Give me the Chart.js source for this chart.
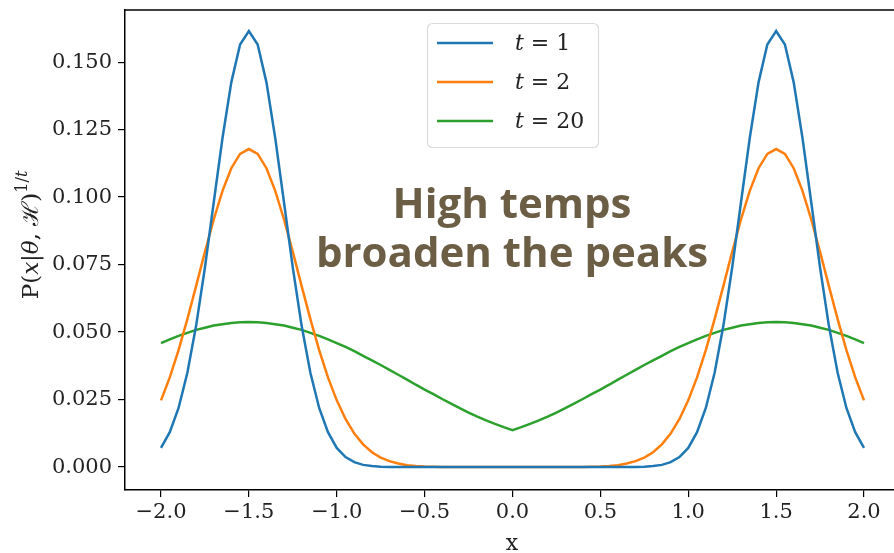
<!DOCTYPE html>
<html>
<head>
<meta charset="utf-8">
<script src="https://cdn.jsdelivr.net/npm/chart.js@4"></script>
<style>
  body { margin: 0; background: #fff; }
  #wrap { width: 894px; height: 553px; }
</style>
</head>
<body>
<div id="wrap"><canvas id="temp_chart" width="894" height="553"></canvas></div>
<script>
// x grid and read-off curve values
var xs = [
  -2.00, -1.95, -1.90, -1.85, -1.80, -1.75, -1.70, -1.65, -1.60, -1.55,
  -1.50, -1.45, -1.40, -1.35, -1.30, -1.25, -1.20, -1.15, -1.10, -1.05,
  -1.00, -0.95, -0.90, -0.85, -0.80, -0.75, -0.70, -0.65, -0.60, -0.55,
  -0.50, -0.45, -0.40, -0.35, -0.30, -0.25, -0.20, -0.15, -0.10, -0.05,
  0.00, 0.05, 0.10, 0.15, 0.20, 0.25, 0.30, 0.35, 0.40, 0.45,
  0.50, 0.55, 0.60, 0.65, 0.70, 0.75, 0.80, 0.85, 0.90, 0.95,
  1.00, 1.05, 1.10, 1.15, 1.20, 1.25, 1.30, 1.35, 1.40, 1.45,
  1.50, 1.55, 1.60, 1.65, 1.70, 1.75, 1.80, 1.85, 1.90, 1.95,
  2.00
];

var p_t1 = [
  0.0071, 0.0129, 0.0219, 0.0349, 0.0524, 0.0739, 0.0980, 0.1219, 0.1425, 0.1565,
  0.1615, 0.1565, 0.1425, 0.1219, 0.0980, 0.0739, 0.0524, 0.0349, 0.0219, 0.0129,
  0.0071, 0.0037, 0.0018, 0.0008, 0.0004, 0.0001, 0, 0, 0, 0,
  0, 0, 0, 0, 0, 0, 0, 0, 0, 0,
  0, 0, 0, 0, 0, 0, 0, 0, 0, 0,
  0, 0, 0, 0, 0, 0.0001, 0.0004, 0.0008, 0.0018, 0.0037,
  0.0071, 0.0129, 0.0219, 0.0349, 0.0524, 0.0739, 0.0980, 0.1219, 0.1425, 0.1565,
  0.1615, 0.1565, 0.1425, 0.1219, 0.0980, 0.0739, 0.0524, 0.0349, 0.0219, 0.0129,
  0.0071
];

var p_t2 = [
  0.0247, 0.0332, 0.0433, 0.0548, 0.0671, 0.0797, 0.0917, 0.1023, 0.1107, 0.1160,
  0.1178, 0.1160, 0.1107, 0.1023, 0.0917, 0.0797, 0.0671, 0.0548, 0.0433, 0.0332,
  0.0247, 0.0178, 0.0124, 0.0084, 0.0055, 0.0035, 0.0022, 0.0013, 0.0007, 0.0004,
  0.0002, 0.0001, 0, 0, 0, 0, 0, 0, 0, 0,
  0, 0, 0, 0, 0, 0, 0, 0, 0, 0.0001,
  0.0002, 0.0004, 0.0007, 0.0013, 0.0022, 0.0035, 0.0055, 0.0084, 0.0124, 0.0178,
  0.0247, 0.0332, 0.0433, 0.0548, 0.0671, 0.0797, 0.0917, 0.1023, 0.1107, 0.1160,
  0.1178, 0.1160, 0.1107, 0.1023, 0.0917, 0.0797, 0.0671, 0.0548, 0.0433, 0.0332,
  0.0247
];

var p_t20 = [
  0.0459, 0.0473, 0.0486, 0.0497, 0.0508, 0.0516, 0.0524, 0.0529, 0.0534, 0.0536,
  0.0537, 0.0536, 0.0534, 0.0529, 0.0524, 0.0516, 0.0508, 0.0497, 0.0486, 0.0473,
  0.0459, 0.0445, 0.0429, 0.0412, 0.0395, 0.0378, 0.0360, 0.0342, 0.0324, 0.0305,
  0.0287, 0.0270, 0.0252, 0.0235, 0.0218, 0.0202, 0.0187, 0.0173, 0.0160, 0.0148,
  0.0137, 0.0148, 0.0160, 0.0173, 0.0187, 0.0202, 0.0218, 0.0235, 0.0252, 0.0270,
  0.0287, 0.0305, 0.0324, 0.0342, 0.0360, 0.0378, 0.0395, 0.0412, 0.0429, 0.0445,
  0.0459, 0.0473, 0.0486, 0.0497, 0.0508, 0.0516, 0.0524, 0.0529, 0.0534, 0.0536,
  0.0537, 0.0536, 0.0534, 0.0529, 0.0524, 0.0516, 0.0508, 0.0497, 0.0486, 0.0473,
  0.0459
];

var series_labels = ["t = 1", "t = 2", "t = 20"];
var series_colors = ["#1f77b4", "#ff7f0e", "#2ca02c"];
var x_ticks = [-2.0, -1.5, -1.0, -0.5, 0.0, 0.5, 1.0, 1.5, 2.0];
var y_ticks = [0.000, 0.025, 0.050, 0.075, 0.100, 0.125, 0.150];
var note_lines = ["High temps", "broaden the peaks"];

var serif = "'DejaVu Serif', serif";

function toPoints(values) {
  return xs.map(function (x, i) { return {x: x, y: values[i]}; });
}

function fmtX(v) {
  if (v < 0) return "\u2212" + Math.abs(v).toFixed(1);
  return v.toFixed(1);
}

// top spine, annotation, in-axes legend, y label with math
var extras = {
  id: "extras",
  afterDatasetsDraw: function (chart) {
    var ctx = chart.ctx, area = chart.chartArea;
    ctx.save();

    ctx.strokeStyle = "#000";
    ctx.lineWidth = 1.5;
    ctx.beginPath();
    ctx.moveTo(area.left - 0.75, area.top);
    ctx.lineTo(area.right, area.top);
    ctx.stroke();

    // note text
    ctx.fillStyle = "#6b5e45";
    ctx.font = "bold 42px 'Open Sans', sans-serif";
    ctx.textAlign = "center";
    ctx.textBaseline = "alphabetic";
    ctx.fillText(note_lines[0], 512, 218);
    ctx.fillText(note_lines[1], 512, 267);

    // legend
    var bx = 427.5, by = 23.5, bw = 171, bh = 124, r = 5;
    ctx.beginPath();
    ctx.moveTo(bx + r, by);
    ctx.arcTo(bx + bw, by, bx + bw, by + bh, r);
    ctx.arcTo(bx + bw, by + bh, bx, by + bh, r);
    ctx.arcTo(bx, by + bh, bx, by, r);
    ctx.arcTo(bx, by, bx + bw, by, r);
    ctx.closePath();
    ctx.fillStyle = "rgba(255,255,255,0.85)";
    ctx.fill();
    ctx.strokeStyle = "#dcdcdc";
    ctx.lineWidth = 1.2;
    ctx.stroke();

    var rows = [43, 82, 121];
    chart.data.datasets.forEach(function (ds, i) {
      ctx.strokeStyle = ds.borderColor;
      ctx.lineWidth = 2.5;
      ctx.beginPath();
      ctx.moveTo(437, rows[i]);
      ctx.lineTo(493, rows[i]);
      ctx.stroke();
      ctx.fillStyle = "#222";
      ctx.textAlign = "left";
      ctx.textBaseline = "middle";
      ctx.font = "italic 22px " + serif;
      ctx.fillText(ds.label.charAt(0), 515, rows[i] + 1);
      var w = ctx.measureText(ds.label.charAt(0)).width;
      ctx.font = "22px " + serif;
      ctx.fillText(ds.label.slice(1), 515 + w, rows[i] + 1);
    });

    // y axis label P(x|θ, ℋ)^{1/t}
    var parts = [
      ["P(", "", 23, 0], ["x", "italic ", 23, 0], ["|", "", 23, 0], ["\u03b8", "italic ", 23, 0],
      [", ", "", 23, 0], ["\u210b", "", 23, 0], [")", "", 23, 0],
      ["1/", "", 16, 11], ["t", "italic ", 16, 11]
    ];
    var total = 0;
    parts.forEach(function (p) {
      ctx.font = p[1] + p[2] + "px " + serif;
      total += ctx.measureText(p[0]).width;
    });
    ctx.translate(38, 235);
    ctx.rotate(-Math.PI / 2);
    ctx.fillStyle = "#222";
    ctx.textAlign = "left";
    ctx.textBaseline = "alphabetic";
    var px = -total / 2;
    parts.forEach(function (p) {
      ctx.font = p[1] + p[2] + "px " + serif;
      ctx.fillText(p[0], px, -p[3]);
      px += ctx.measureText(p[0]).width;
    });
    ctx.restore();

    // x axis label
    ctx.save();
    ctx.fillStyle = "#222";
    ctx.font = "22px " + serif;
    ctx.textAlign = "center";
    ctx.textBaseline = "alphabetic";
    ctx.fillText("x", 512, 550);
    ctx.restore();
  }
};

var datasets = [p_t1, p_t2, p_t20].map(function (vals, i) {
  return {
    label: series_labels[i],
    data: toPoints(vals),
    borderColor: series_colors[i],
    backgroundColor: series_colors[i],
    borderWidth: 2.5,
    pointRadius: 0,
    tension: 0,
    fill: false
  };
});

var temp_chart = new Chart(document.getElementById("temp_chart"), {
  type: "line",
  data: {datasets: datasets},
  options: {
    responsive: false,
    animation: false,
    layout: {padding: {top: 10, left: 0, right: 0, bottom: 0}},
    plugins: {
      legend: {display: false},
      title: {display: false},
      tooltip: {enabled: false}
    },
    scales: {
      x: {
        type: "linear",
        min: -2.2048,
        max: 2.1707,
        afterBuildTicks: function (scale) {
          scale.ticks = x_ticks.map(function (v) { return {value: v}; });
        },
        afterFit: function (scale) {
          scale.height = 63;
          scale.paddingLeft = 0;
          scale.paddingRight = 0;
        },
        grid: {drawOnChartArea: false, drawTicks: true, tickLength: 7, color: "#000", lineWidth: 1.2},
        border: {display: true, color: "#000", width: 1.5},
        ticks: {
          color: "#222",
          padding: 3,
          maxRotation: 0,
          font: {family: serif, size: 21},
          callback: function (v) { return fmtX(v); }
        }
      },
      y: {
        min: -0.0085,
        max: 0.1693,
        afterBuildTicks: function (scale) {
          scale.ticks = y_ticks.map(function (v) { return {value: v}; });
        },
        afterFit: function (scale) {
          scale.width = 125;
          scale.paddingTop = 0;
          scale.paddingBottom = 0;
        },
        grid: {drawOnChartArea: false, drawTicks: true, tickLength: 7, color: "#000", lineWidth: 1.2},
        border: {display: true, color: "#000", width: 1.5},
        ticks: {
          color: "#222",
          padding: 6,
          font: {family: serif, size: 21},
          callback: function (v) { return v.toFixed(3); }
        }
      }
    }
  },
  plugins: [extras]
});
</script>
</body>
</html>
